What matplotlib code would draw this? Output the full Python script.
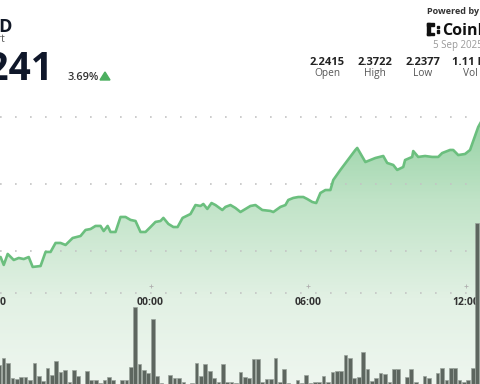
import numpy as np
import matplotlib.pyplot as plt
from matplotlib.colors import LinearSegmentedColormap
from matplotlib.patches import Polygon, Rectangle
from matplotlib.transforms import blended_transform_factory

plt.rcParams['font.family'] = ['Open Sans', 'DejaVu Sans']

# price line, hours relative to 00:00 on 5 Sep
hours = [-5.80, -5.70, -5.58, -5.43, -5.20, -5.01, -4.82, -4.63, -4.48, -4.18, -3.99,
         -3.80, -3.61, -3.42, -3.23, -2.96, -2.66, -2.47, -2.28, -2.09, -1.90, -1.78,
         -1.63, -1.52, -1.33, -1.14, -0.95, -0.76, -0.57, -0.38, -0.19, 0.00, 0.19,
         0.38, 0.49, 0.68, 0.87, 1.03, 1.22, 1.52, 1.71, 1.90, 2.01, 2.16, 2.32, 2.47,
         2.73, 2.85, 3.04, 3.23, 3.42, 3.80, 3.99, 4.25, 4.56, 4.67, 4.94, 5.13, 5.24,
         5.43, 5.62, 5.81, 5.96, 6.15, 6.30, 6.46, 6.65, 6.84, 6.95, 7.22, 7.79, 7.86,
         8.17, 8.36, 8.55, 8.85, 9.00, 9.23, 9.38, 9.61, 9.68, 9.95, 9.99, 10.18, 10.44,
         10.71, 10.94, 11.09, 11.39, 11.51, 11.70, 11.96, 12.15, 12.46, 12.70]
price = [2.2450, 2.2455, 2.2396, 2.2478, 2.2433, 2.2448, 2.2440, 2.2455, 2.2381, 2.2388,
         2.2493, 2.2493, 2.2560, 2.2560, 2.2545, 2.2597, 2.2612, 2.2657, 2.2664, 2.2687,
         2.2687, 2.2649, 2.2687, 2.2642, 2.2642, 2.2754, 2.2754, 2.2732, 2.2724, 2.2642,
         2.2642, 2.2679, 2.2717, 2.2724, 2.2747, 2.2702, 2.2679, 2.2679, 2.2747, 2.2776,
         2.2843, 2.2836, 2.2851, 2.2814, 2.2858, 2.2843, 2.2806, 2.2829, 2.2843, 2.2821,
         2.2791, 2.2836, 2.2843, 2.2806, 2.2799, 2.2791, 2.2829, 2.2843, 2.2881, 2.2896,
         2.2903, 2.2903, 2.2888, 2.2866, 2.2858, 2.2933, 2.2955, 2.2955, 2.3030, 2.3105,
         2.3254, 2.3269, 2.3164, 2.3179, 2.3194, 2.3209, 2.3157, 2.3142, 2.3105, 2.3127,
         2.3179, 2.3202, 2.3246, 2.3202, 2.3209, 2.3202, 2.3202, 2.3231, 2.3254, 2.3254,
         2.3216, 2.3224, 2.3254, 2.3425, 2.3510]

# 10-minute volume bars (thousands), first bar starts 18:10 on 4 Sep
vol_start = -35 / 6
volume = [19, 26, 21, 6, 5, 7, 7, 4, 21, 8, 3, 16, 9, 23, 12, 14, 2, 14, 8,
          0, 13, 4, 4, 1, 4, 7, 4, 0, 4, 4, 17, 77, 20, 14, 11, 65, 8,
          1, 0, 9, 6, 6, 2, 0, 1, 21, 8, 20, 13, 6, 2, 20, 2, 2, 1,
          12, 7, 6, 25, 25, 2, 5, 5, 26, 2, 15, 1, 0, 4, 1, 9, 1, 2,
          2, 8, 2, 12, 13, 13, 29, 26, 6, 7, 32, 15, 3, 6, 11, 10, 2, 15, 15,
          0, 7, 15, 2, 0, 8, 6, 0, 11, 16, 4, 16, 16, 4, 2, 4, 16, 161, 21]

tick_hours = [-6, 0, 6, 12]
tick_labels = ['18:00', '00:00', '06:00', '12:00']
grid_prices = [2.25, 2.30, 2.35]

stat_values = ['2.2415', '2.3722', '2.2377', '1.11 M']
stat_names = ['Open', 'High', 'Low', 'Vol']
stat_x = [327, 375, 423, 470]

W, H = 480, 384
fig = plt.figure(figsize=(4.8, 3.84), dpi=100)
ax = fig.add_axes([0, 0, 1, 1])
xlim = (-150.5 / 26.3, 329.5 / 26.3)
ylim = (2.15075, 2.43731)
ax.set_xlim(xlim)
ax.set_ylim(ylim)
ax.axis('off')

# gradient area under the price line
cmap = LinearSegmentedColormap.from_list('g', [(0, '#6fc083'), (0.33, '#9ad4a8'),
                                               (0.52, '#c0e3c7'), (0.78, '#e2f1e4'),
                                               (1.0, '#eef6ef')])
grad = np.linspace(0, 1, 384)[:, None]
im = ax.imshow(grad, cmap=cmap, aspect='auto', origin='upper',
               extent=(xlim[0], xlim[1], ylim[0], ylim[1]), zorder=1)
fill = ax.fill_between(hours, price, ylim[0], color='none')
im.set_clip_path(fill.get_paths()[0], transform=ax.transData)
ax.set_xlim(xlim)
ax.set_ylim(ylim)

for g in grid_prices:
    ax.axhline(g, color='#c4c4c4', lw=1.2, ls=(0, (1, 8)), zorder=2)
ax.axhline(2.2187, color='#c4c4c4', lw=1.2, ls=(0, (1, 8)), zorder=2)

ax.plot(hours, price, color='#6bbf7e', lw=1.9, zorder=4, solid_joinstyle='round')

# volume bars
vax = ax.twinx()
vax.set_ylim(0, 384)
vax.axis('off')
vx = [vol_start + i / 6 + 1 / 12 for i in range(len(volume))]
vax.bar(vx, volume, width=0.84 / 6, color='#5d665f', edgecolor='#9aa39c', lw=0.5, zorder=3)
vax.set_xlim(xlim)

trans = blended_transform_factory(ax.transData, ax.transAxes)
for th, tl in zip(tick_hours, tick_labels):
    ax.text(th, 1 - 305 / H, tl, transform=trans, ha='center', va='baseline',
            fontsize=7.5, fontweight='bold', color='#333333')
    ax.plot(th, 1 - 286 / H, marker='+', ms=3, color='#b0b0b0', mew=0.6,
            transform=trans, zorder=5)


def ftext(x, y, s, **kw):
    fig.text(x / W, 1 - y / H, s, **kw)


ftext(12, 32, 'XRP/USD', ha='right', va='baseline', fontsize=13, fontweight='bold', color='#111827')
ftext(5, 42, 'Chart', ha='right', va='baseline', fontsize=7.5, color='#555555')
ftext(53, 80, '2.3241', ha='right', va='baseline', fontsize=28, fontweight='bold', color='#0f172a')
ftext(67, 80, '3.69%', ha='left', va='baseline', fontsize=7.8, fontweight='semibold', color='#333333')
tri = Polygon([[100 / W, 1 - 80 / H], [110 / W, 1 - 80 / H], [105 / W, 1 - 72 / H]],
              closed=True, transform=fig.transFigure, color='#4caf60')
fig.patches.append(tri)

ftext(427, 14, 'Powered by', ha='left', va='baseline', fontsize=6.5, fontweight='bold', color='#333333')
ftext(442, 35, 'CoinDesk', ha='left', va='baseline', fontsize=11.5, fontweight='bold', color='#111111')
for rx, ry, rw, rh in [(427, 23, 2.5, 12), (427, 23, 7, 2.5), (427, 32.5, 7, 2.5),
                       (436.5, 25.5, 2.5, 2.5), (436.5, 30, 2.5, 2.5)]:
    fig.patches.append(Rectangle((rx / W, 1 - (ry + rh) / H), rw / W, rh / H,
                                 transform=fig.transFigure, color='#111111'))
ftext(433, 48, '5 Sep 2025', ha='left', va='baseline', fontsize=7, color='#999999')

for sx, sv, sn in zip(stat_x, stat_values, stat_names):
    ftext(sx, 65, sv, ha='center', va='baseline', fontsize=8, fontweight='bold', color='#222222')
    ftext(sx, 76, sn, ha='center', va='baseline', fontsize=7.3, color='#555555')

fig.savefig('out.png', dpi=100)
